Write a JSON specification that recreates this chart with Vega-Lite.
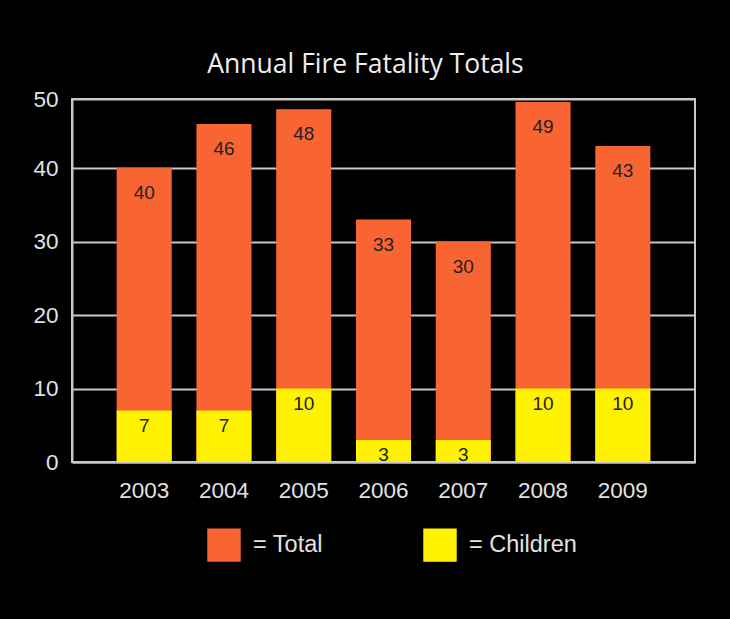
{
  "$schema": "https://vega.github.io/schema/vega-lite/v6.json",
  "description": "Annual fire fatality totals and children, 2003-2009.",
  "width": 623,
  "height": 363,
  "autosize": "none",
  "padding": {"left": 72, "top": 99, "right": 35, "bottom": 157},
  "background": "#000000",
  "title": {
    "text": "Annual Fire Fatality Totals",
    "font": "Open Sans",
    "fontSize": 26.5,
    "fontWeight": "normal",
    "color": "#eeeeee",
    "anchor": "middle",
    "dx": -18,
    "offset": 10
  },
  "data": {
    "values": [
      {"year": "2003", "Total": 40, "Children": 7},
      {"year": "2004", "Total": 46, "Children": 7},
      {"year": "2005", "Total": 48, "Children": 10},
      {"year": "2006", "Total": 33, "Children": 3},
      {"year": "2007", "Total": 30, "Children": 3},
      {"year": "2008", "Total": 49, "Children": 10},
      {"year": "2009", "Total": 43, "Children": 10}
    ]
  },
  "encoding": {
    "x": {
      "field": "year",
      "type": "nominal",
      "title": null,
      "scale": {"paddingInner": 0.31, "paddingOuter": 0.56},
      "axis": {
        "labelAngle": 0,
        "labelFont": "Liberation Sans",
        "labelFontSize": 22.5,
        "labelColor": "#e2e2e2",
        "labelPadding": 17,
        "ticks": false,
        "domainColor": "#c8c8c8",
        "domainWidth": 2
      }
    }
  },
  "layer": [
    {
      "transform": [{"fold": ["Total", "Children"], "as": ["series", "count"]}],
      "mark": {"type": "bar", "strokeWidth": 0},
      "encoding": {
        "y": {
          "field": "count",
          "type": "quantitative",
          "stack": null,
          "title": null,
          "scale": {"domain": [0, 49.4], "nice": false},
          "axis": {
            "values": [0, 10, 20, 30, 40, 49.4],
            "labelExpr": "datum.value > 45 ? '50' : datum.label",
            "labelFont": "Liberation Sans",
            "labelFontSize": 22.5,
            "labelColor": "#e2e2e2",
            "labelPadding": 14,
            "ticks": false,
            "grid": true,
            "gridColor": "#c8c8c8",
            "gridWidth": 2,
            "domainColor": "#c8c8c8",
            "domainWidth": 2
          }
        },
        "color": {
          "field": "series",
          "type": "nominal",
          "scale": {"domain": ["Total", "Children"], "range": ["#f86532", "#fff200"]},
          "legend": {
            "title": null,
            "orient": "none",
            "direction": "horizontal",
            "legendX": 135,
            "legendY": 429,
            "padding": 0,
            "symbolType": "square",
            "symbolSize": 1120,
            "symbolStrokeWidth": 0,
            "symbolOpacity": 1,
            "labelFont": "Liberation Sans",
            "labelFontSize": 23.5,
            "labelColor": "#e2e2e2",
            "labelOffset": 12,
            "columnPadding": 100,
            "labelExpr": "'= ' + datum.label"
          }
        }
      }
    },
    {
      "mark": {"type": "text", "font": "Liberation Sans", "fontSize": 19, "color": "#222222", "baseline": "middle", "dy": 25},
      "encoding": {
        "y": {"field": "Total", "type": "quantitative"},
        "text": {"field": "Total", "type": "quantitative"}
      }
    },
    {
      "mark": {"type": "text", "font": "Liberation Sans", "fontSize": 19, "color": "#222222", "baseline": "middle", "dy": 15},
      "encoding": {
        "y": {"field": "Children", "type": "quantitative"},
        "text": {"field": "Children", "type": "quantitative"}
      }
    }
  ],
  "config": {
    "view": {"stroke": "#c8c8c8", "strokeWidth": 2}
  }
}
